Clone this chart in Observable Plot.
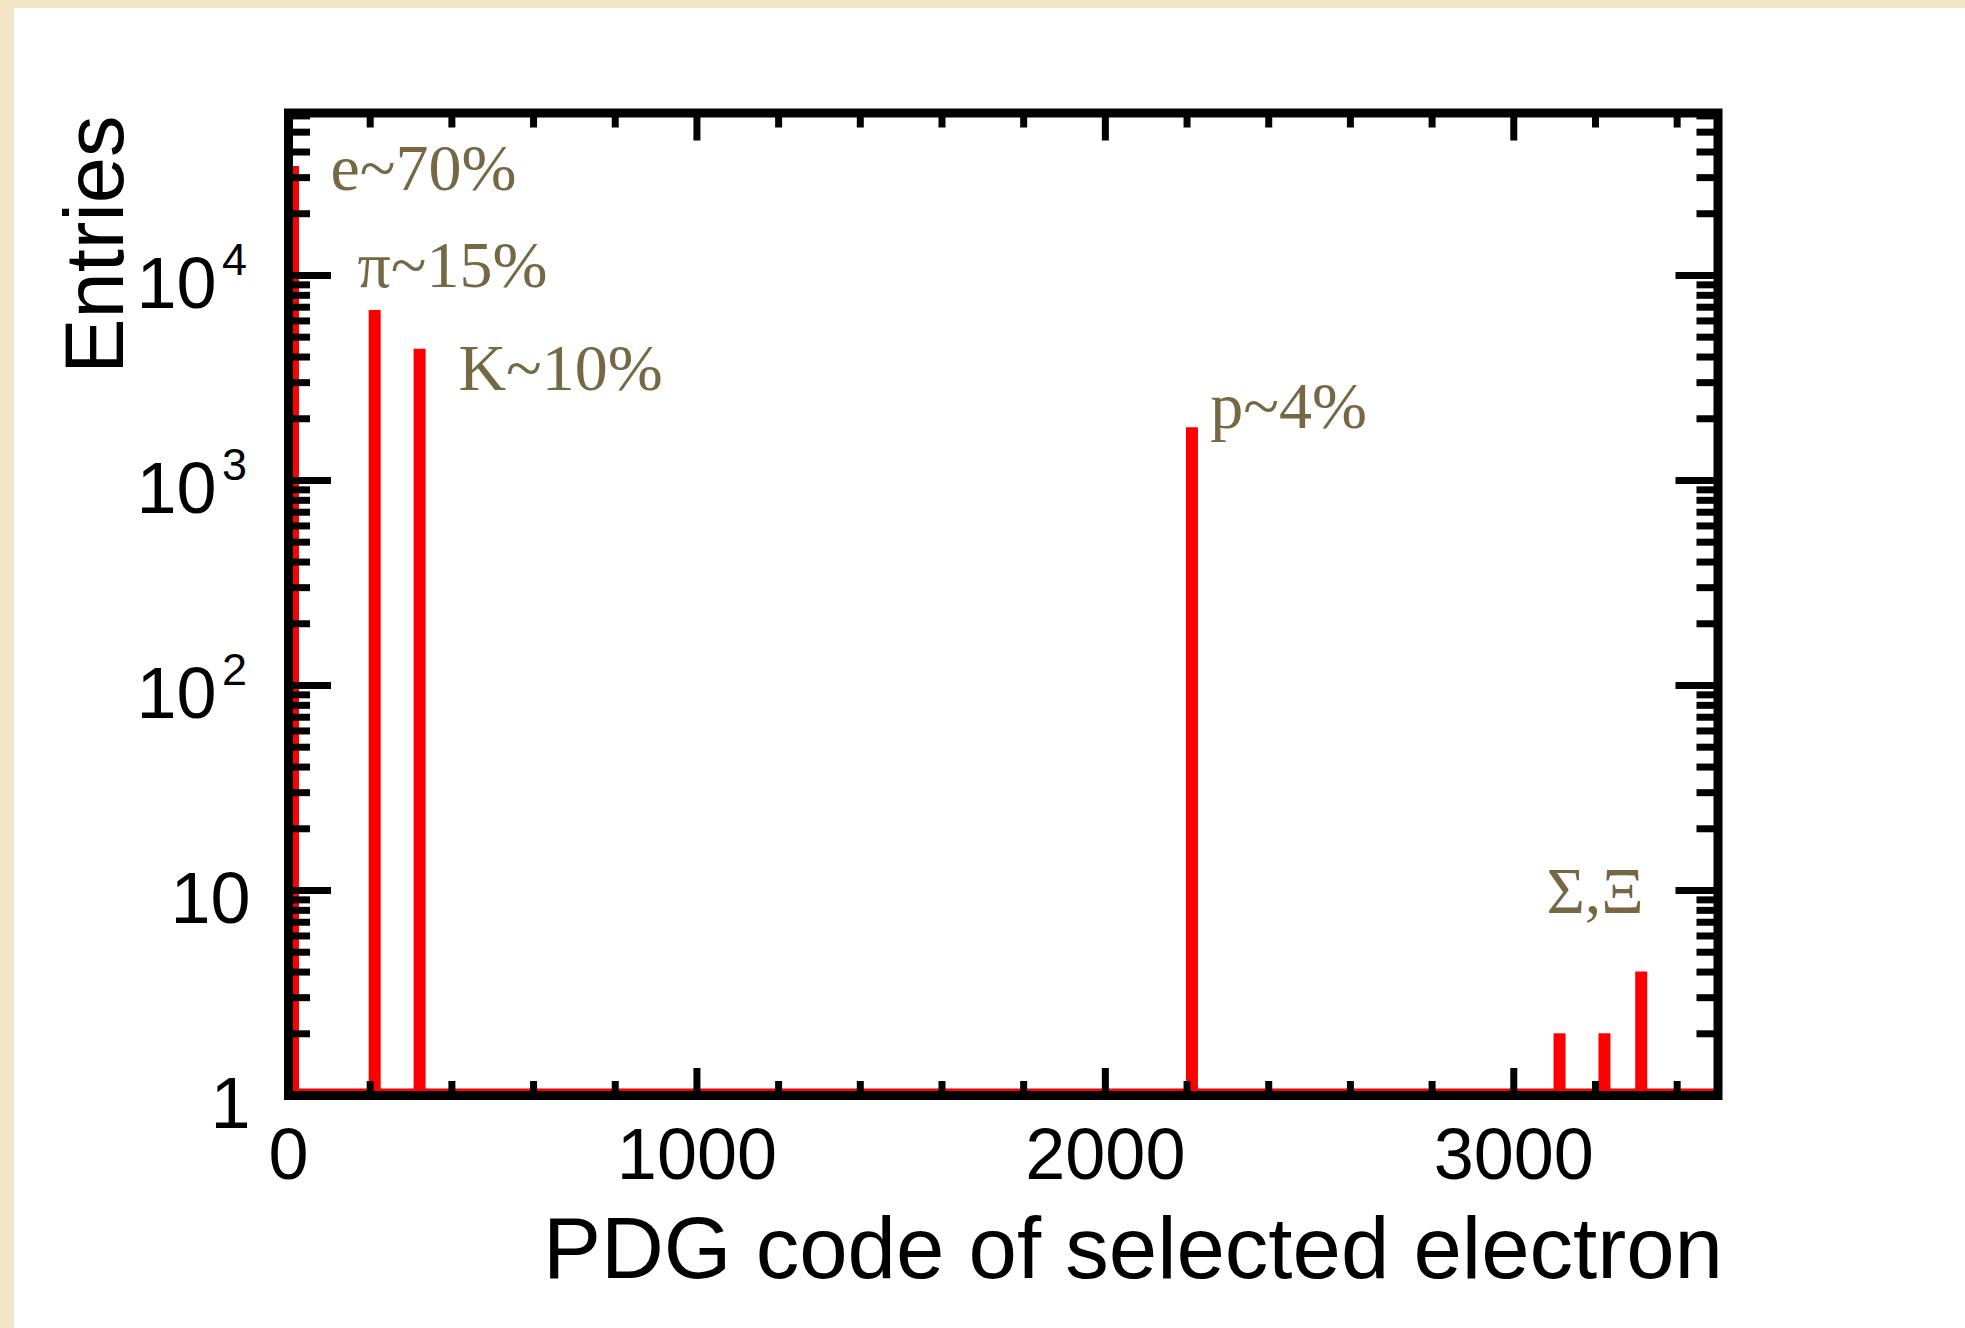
<!DOCTYPE html>
<html>
<head>
<meta charset="utf-8">
<script src="https://cdn.jsdelivr.net/npm/d3@7"></script>
<script src="https://cdn.jsdelivr.net/npm/@observablehq/plot@0.6"></script>
<style>
  html, body { margin: 0; padding: 0; }
  body { width: 1965px; height: 1328px; overflow: hidden; background: #f1e5c6; position: relative; font-family: "Liberation Sans", Arial, sans-serif; }
  #panel { position: absolute; left: 14px; top: 8px; right: 0; bottom: 0; background: #ffffff; }
  #chart { position: absolute; left: 0; top: 0; }
</style>
</head>
<body>
<div id="panel"></div>
<div id="chart"></div>
<script>
// PDG codes of the selected "electron" candidates and histogram entries
const pdgCodes = [11, 211, 321, 2212, 3112, 3222, 3312];
const entries = [34000, 6750, 4360, 1807, 2, 2, 4];

// annotations (data coordinates: PDG code, entries)
const annLabels = ["e~70%", "π~15%", "K~10%", "p~4%", "Σ,Ξ"];
const annX = [103, 169, 416, 2257, 3080];
const annY = [26000, 8740, 2750, 1794, 7.8];

// axes
const xMajorTicks = [0, 1000, 2000, 3000];
const xMinorTicks = [200, 400, 600, 800, 1200, 1400, 1600, 1800, 2200, 2400, 2600, 2800, 3200, 3400];
const yMajorTicks = [1, 10, 100, 1000, 10000];
const yPlainLabels = ["1", "10"];
const yExpBase = "10";
const yExponents = ["2", "3", "4"];
const xTitle = "PDG code of selected electron";
const yTitle = "Entries";

const bars = pdgCodes.map((c, i) => ({code: c, count: entries[i]}));
const anns = annLabels.map((t, i) => ({label: t, x: annX[i], y: annY[i]}));
const yMinorTicks = [];
for (const dec of yMajorTicks) for (let m = 2; m <= 9; m++) if (m * dec <= 62000) yMinorTicks.push(m * dec);
const yPlain = yMajorTicks.slice(0, 2).map((v, i) => ({v, t: yPlainLabels[i]}));
const yExp = yMajorTicks.slice(2).map((v, i) => ({v, e: yExponents[i]}));

const red = "#ff0000";
const olive = "#766845";
const tickOpts = {tickFormat: null, label: null, strokeWidth: 7, stroke: "black", fill: "none"};

const chart = Plot.plot({
  width: 1965,
  height: 1328,
  marginLeft: 288,
  marginRight: 247.5,
  marginTop: 112.5,
  marginBottom: 233,
  style: {background: "transparent", fontFamily: "Liberation Sans, Arial, sans-serif", color: "black"},
  x: {domain: [0, 3500]},
  y: {type: "log", domain: [1, 62000]},
  marks: [
    Plot.ruleY([1], {stroke: red, strokeWidth: 8, dy: -3}),
    Plot.ruleX(bars, {x: "code", y1: 1, y2: "count", stroke: red, strokeWidth: 12}),
    Plot.frame({stroke: "black", strokeWidth: 9}),
    // x ticks (inward) bottom and top
    Plot.axisX(xMinorTicks, {anchor: "bottom", tickSize: -14, ...tickOpts}),
    Plot.axisX(xMajorTicks, {anchor: "bottom", tickSize: -27, ...tickOpts}),
    Plot.axisX(xMinorTicks, {anchor: "top", tickSize: -14, ...tickOpts}),
    Plot.axisX(xMajorTicks, {anchor: "top", tickSize: -27, ...tickOpts}),
    // y ticks (inward) left and right
    Plot.axisY(yMinorTicks, {anchor: "left", tickSize: -22, ...tickOpts}),
    Plot.axisY(yMajorTicks, {anchor: "left", tickSize: -43, ...tickOpts}),
    Plot.axisY(yMinorTicks, {anchor: "right", tickSize: -22, ...tickOpts}),
    Plot.axisY(yMajorTicks, {anchor: "right", tickSize: -43, ...tickOpts}),
    // x tick labels
    Plot.axisX(xMajorTicks, {anchor: "bottom", tickSize: 0, tickPadding: 32, tickFormat: d => String(d), label: null, fontSize: 72, fill: "black"}),
    // y tick labels
    Plot.text(yPlain, {y: "v", text: "t", frameAnchor: "left", textAnchor: "end", lineAnchor: "bottom", dx: -38, dy: 32.5, fontSize: 72, fill: "black"}),
    Plot.text(yExp, {y: "v", text: () => yExpBase, frameAnchor: "left", textAnchor: "end", lineAnchor: "bottom", dx: -72, dy: 33, fontSize: 72, fill: "black"}),
    Plot.text(yExp, {y: "v", text: "e", frameAnchor: "left", textAnchor: "end", lineAnchor: "bottom", dx: -41.5, dy: 0, fontSize: 45, fill: "black"}),
    // axis titles
    Plot.text([xTitle], {text: d => d, frameAnchor: "bottom-right", textAnchor: "end", lineAnchor: "bottom", dx: 5, dy: 182, fontSize: 87, fill: "black"}),
    Plot.text([yTitle], {text: d => d, frameAnchor: "top-left", rotate: -90, textAnchor: "end", lineAnchor: "bottom", dx: -166, dy: 2.5, fontSize: 83, fill: "black"}),
    // annotations
    Plot.text(anns, {x: "x", y: "y", text: "label", textAnchor: "start", lineAnchor: "bottom", fill: olive, fontFamily: "Liberation Serif, serif", fontSize: 66})
  ]
});
document.getElementById("chart").appendChild(chart);
</script>
</body>
</html>
